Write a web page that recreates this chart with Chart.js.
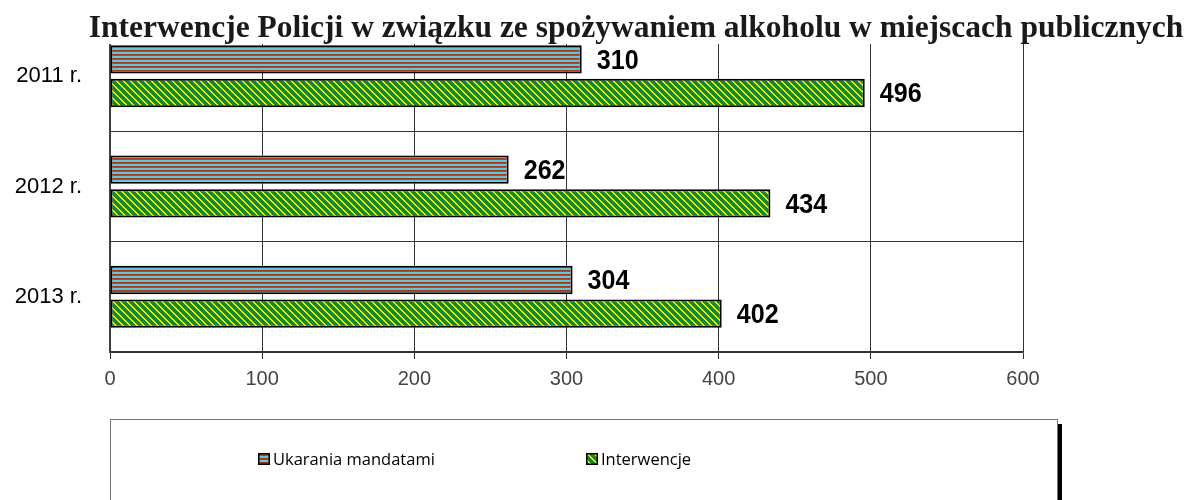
<!DOCTYPE html>
<html>
<head>
<meta charset="utf-8">
<script src="https://cdn.jsdelivr.net/npm/chart.js@4.4.1/dist/chart.umd.min.js"></script>
<style>
  html, body { margin: 0; padding: 0; background: #fff; }
  #wrap { width: 1189px; height: 500px; }
</style>
</head>
<body>
<div id="wrap"><canvas id="c" width="1189" height="500"></canvas></div>
<script>
const titleText = 'Interwencje Policji w związku ze spożywaniem alkoholu w miejscach publicznych';
const categories = ['2011 r.', '2012 r.', '2013 r.'];
const seriesNames = ['Ukarania mandatami', 'Interwencje'];
const mandaty = [310, 262, 304];
const interwencje = [496, 434, 402];
const xTicks = [0, 100, 200, 300, 400, 500, 600];

function stripePattern() {
  const c = document.createElement('canvas');
  c.width = 4; c.height = 4;
  const g = c.getContext('2d');
  const rows = ['#5ec8d8', '#5ec8d8', '#a8361c', '#8a5446'];
  rows.forEach((col, i) => { g.fillStyle = col; g.fillRect(0, i, 4, 1); });
  return g.createPattern(c, 'repeat');
}
function diagPattern() {
  const n = 7;
  const c = document.createElement('canvas');
  c.width = n; c.height = n;
  const g = c.getContext('2d');
  g.fillStyle = '#168a2c';
  g.fillRect(0, 0, n, n);
  g.fillStyle = '#f0f000';
  for (let y = 0; y < n; y++) {
    for (let x = 0; x < n; x++) {
      const d = ((x - y) % n + n) % n;
      if (d === 0 || d === 1) g.fillRect(x, y, 1, 1);
    }
  }
  return g.createPattern(c, 'repeat');
}
const pats = [stripePattern(), diagPattern()];

const valueLabels = {
  id: 'valueLabels',
  afterDatasetsDraw(chart) {
    const ctx = chart.ctx;
    chart.data.datasets.forEach((ds, di) => {
      chart.getDatasetMeta(di).data.forEach((bar, i) => {
        ctx.save();
        ctx.translate(bar.x + 15, bar.y + 2);
        ctx.scale(0.93, 1);
        ctx.font = 'bold 27px "Liberation Sans", Arial, sans-serif';
        ctx.fillStyle = '#000';
        ctx.textAlign = 'left';
        ctx.textBaseline = 'middle';
        ctx.fillText(String(ds.data[i]), 0, 0);
        ctx.restore();
      });
    });
  }
};

const titleAndLegend = {
  id: 'titleAndLegend',
  afterDraw(chart) {
    const ctx = chart.ctx;
    const area = chart.chartArea;
    ctx.save();
    ctx.fillStyle = '#fff';
    ctx.fillRect(0, 0, chart.width, 44);
    ctx.fillStyle = '#1a1a1a';
    ctx.font = 'bold 31.5px "Liberation Serif", "Times New Roman", serif';
    ctx.textAlign = 'center';
    ctx.textBaseline = 'alphabetic';
    ctx.fillText(titleText, 636, 37);

    // legend box
    const lx = area.left, ly = 419, lw = 947, lh = 100;
    ctx.fillStyle = '#000';
    ctx.fillRect(lx + lw, ly + 5, 5, lh);
    ctx.fillStyle = '#fff';
    ctx.fillRect(lx, ly, lw, lh);
    ctx.strokeStyle = '#777';
    ctx.lineWidth = 1;
    ctx.strokeRect(lx + 0.5, ly + 0.5, lw, lh);

    const items = [{ x: 258 }, { x: 586 }];
    ctx.font = '16.5px "Open Sans", "Noto Sans", sans-serif';
    ctx.textAlign = 'left';
    ctx.textBaseline = 'middle';
    chart.data.datasets.forEach((ds, i) => {
      const sx = items[i].x, sy = 453;
      ctx.fillStyle = pats[i];
      ctx.fillRect(sx, sy, 12, 12);
      ctx.strokeStyle = '#000';
      ctx.lineWidth = 1.5;
      ctx.strokeRect(sx + 0.75, sy + 0.75, 10.5, 10.5);
      ctx.fillStyle = '#000';
      ctx.fillText(ds.label, sx + 15, 460);
    });
    ctx.restore();
  }
};

new Chart(document.getElementById('c'), {
  type: 'bar',
  data: {
    labels: categories,
    datasets: [
      { label: seriesNames[0], data: mandaty, backgroundColor: pats[0], borderColor: '#000', borderWidth: 2, borderSkipped: false },
      { label: seriesNames[1], data: interwencje, backgroundColor: pats[1], borderColor: '#000', borderWidth: 2, borderSkipped: false }
    ]
  },
  options: {
    indexAxis: 'y',
    responsive: false,
    animation: false,
    devicePixelRatio: 1,
    categoryPercentage: 0.61,
    barPercentage: 0.84,
    layout: { padding: { left: 0, right: 166, top: 21, bottom: 108 } },
    plugins: { legend: { display: false }, title: { display: false }, tooltip: { enabled: false } },
    scales: {
      x: {
        type: 'linear',
        min: 0, max: 600,
        afterBuildTicks(scale) { scale.ticks = xTicks.map(v => ({ value: v })); },
        afterFit(scale) { scale.height = 40; scale.paddingLeft = 0; },
        grid: { color: '#333', lineWidth: 1, tickLength: 7, drawTicks: true },
        border: { color: '#333', width: 1.5 },
        ticks: { color: '#444', padding: 8, font: { family: '"Liberation Sans", Arial, sans-serif', size: 20 } }
      },
      y: {
        type: 'category',
        afterFit(scale) { scale.width = 110; scale.paddingTop = 0; scale.paddingBottom = 0; },
        grid: { color: '#333', lineWidth: 1, offset: true, drawTicks: false },
        border: { color: '#444', width: 1.5 },
        ticks: { color: '#000', padding: 28, font: { family: '"Liberation Sans", Arial, sans-serif', size: 22 } }
      }
    }
  },
  plugins: [valueLabels, titleAndLegend]
});
</script>
</body>
</html>
